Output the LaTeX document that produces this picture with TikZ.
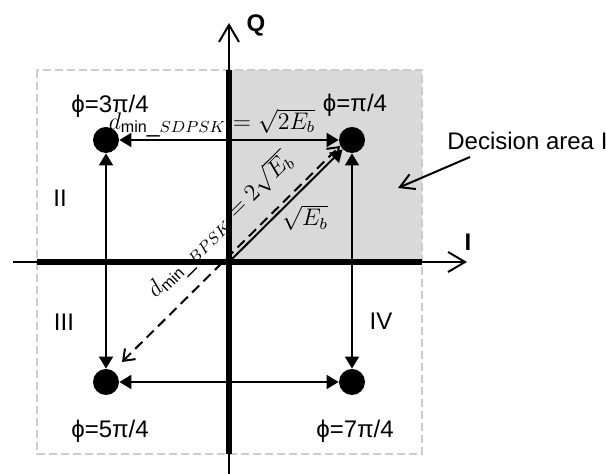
\documentclass[tikz,border=0pt]{standalone}
\usepackage{fontspec}
\setmainfont{Liberation Sans}
\usetikzlibrary{arrows.meta}
\begin{document}
\begin{tikzpicture}[x=0.5pt,y=-0.5pt,
  dot/.style={circle,fill=black,inner sep=0pt,minimum size=13pt},
  dist/.style={line width=1pt,{Triangle[length=6pt,width=7pt]}-{Triangle[length=6pt,width=7pt]}},
  radial/.style={line width=1pt,-{Triangle[length=6pt,width=7pt]}},
  dashdist/.style={line width=1pt,dash pattern=on 5pt off 3pt,{Straight Barb[length=5pt,width=7.5pt]}-{Straight Barb[length=5pt,width=7.5pt]}},
  axisline/.style={line width=1pt,-{Straight Barb[length=8.5pt,width=10pt]}},
  thickaxis/.style={line width=2.8pt},
  boxdash/.style={draw=black!20,line width=1pt,dash pattern=on 4pt off 2pt},
  pointer/.style={line width=1pt,-{Straight Barb[length=7pt,width=8pt]}},
  lab/.style={inner sep=0pt,font=\fontsize{12}{14}\selectfont},
  mlab/.style={inner sep=0pt,font=\fontsize{11.5}{13}\selectfont},
  ]
\useasboundingbox (0,0) rectangle (606,474);
% decision area and box
\fill[black!15] (229,70) rectangle (422,262);
\draw[boxdash] (37,70) rectangle (422,454);
% axes
\coordinate (xs) at (13,262);
\coordinate (xe) at (467,262);
\coordinate (ys) at (229,474);
\coordinate (ye) at (229,23);
\coordinate (o) at (229,262);
\coordinate (xa) at (37,262);
\coordinate (xb) at (422,262);
\coordinate (ya) at (229,454);
\coordinate (yb) at (229,70);
\draw[axisline] (xs) -- (xe);
\draw[axisline] (ys) -- (ye);
\draw[thickaxis] (xa) -- (xb);
\draw[thickaxis] (ya) -- (yb);
\node[lab,font=\fontsize{12}{14}\selectfont\bfseries] (qlab) at (256,25) {Q};
\node[lab,font=\fontsize{12}{14}\selectfont\bfseries] (ilab) at (468,242) {I};
% constellation points
\node[dot] (tr) at (352,140) {};
\node[dot] (tl) at (106,140) {};
\node[dot] (bl) at (106,382) {};
\node[dot] (br) at (352,382) {};
% distances
\draw[dist] (tl) -- (tr);
\draw[dist] (bl) -- (br);
\draw[dist] (tl) -- (bl);
\draw[dist] (tr) -- (br);
\draw[radial] (o) -- (tr);
\coordinate (dA) at (122,362);
\coordinate (dB) at (340,146);
\draw[dashdist] (dA) -- (dB) node[mlab,pos=0.54,sloped,above=6pt] (dbp) {$d_{\mathrm{min}\_BPSK}=2\sqrt{E_b}$};
% labels
\node[mlab] (dsd) at (212,123) {$d_{\mathrm{min}\_SDPSK}=\sqrt{2E_b}$};
\node[lab,font=\fontsize{12}{14}\selectfont] (seb) at (305,218) {$\sqrt{E_b}$};
\node[lab] (p1) at (355,105) {ϕ=π/4};
\node[lab] (p3) at (110,106) {ϕ=3π/4};
\node[lab] (p5) at (110,431) {ϕ=5π/4};
\node[lab] (p7) at (355,431) {ϕ=7π/4};
\node[lab] (r2) at (60,198) {II};
\node[lab] (r3) at (64,322) {III};
\node[lab] (r4) at (381,321) {IV};
\node[lab,anchor=west] (dec) at (447,141) {Decision area I};
\coordinate (decA) at (470,157);
\coordinate (decB) at (398,188);
\draw[pointer] (decA) -- (decB);
\end{tikzpicture}
\end{document}
